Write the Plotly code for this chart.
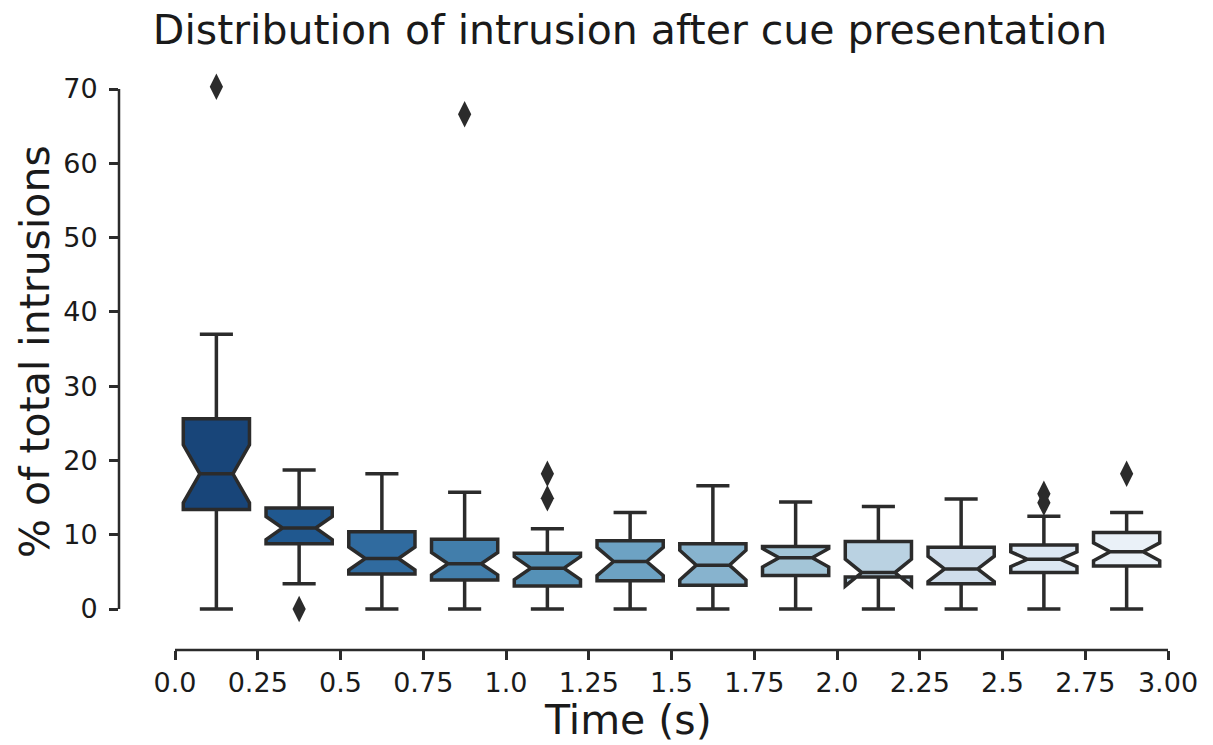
import colorsys
import numpy as np
import plotly.graph_objects as go

# ---------------- data ----------------
bin_centers = [0.125, 0.375, 0.625, 0.875, 1.125, 1.375, 1.625, 1.875, 2.125, 2.375, 2.625, 2.875]
upper_whisker = [37.0, 18.7, 18.2, 15.7, 10.8, 13.0, 16.6, 14.4, 13.8, 14.8, 12.5, 13.0]
q3_values = [25.6, 13.6, 10.4, 9.4, 7.5, 9.2, 8.8, 8.4, 9.1, 8.3, 8.6, 10.3]
median_values = [18.2, 10.9, 6.8, 6.1, 5.5, 6.4, 5.9, 6.9, 4.9, 5.4, 6.7, 7.7]
q1_values = [13.4, 8.8, 4.7, 3.9, 3.1, 3.8, 3.2, 4.5, 4.3, 3.4, 4.9, 5.8]
lower_whisker = [0.0, 3.4, 0.0, 0.0, 0.0, 0.0, 0.0, 0.0, 0.0, 0.0, 0.0, 0.0]
notch_span = [3.9, 1.55, 1.55, 1.5, 1.55, 1.9, 2.0, 1.25, 1.8, 1.7, 1.0, 1.2]

outlier_box = [0, 1, 3, 4, 4, 10, 10, 11]
outlier_values = [70.3, 0.0, 66.6, 18.2, 14.9, 15.5, 14.3, 18.2]

x_tick_vals = [0.0, 0.25, 0.5, 0.75, 1.0, 1.25, 1.5, 1.75, 2.0, 2.25, 2.5, 2.75, 3.0]
x_tick_text = ["0.0", "0.25", "0.5", "0.75", "1.0", "1.25", "1.5", "1.75", "2.0", "2.25", "2.5", "2.75", "3.00"]
y_tick_vals = [0, 10, 20, 30, 40, 50, 60, 70]

# ---------------- palette (seaborn Blues_r, desaturated 0.75) ----------------
blues_anchor = np.array([
    [247, 251, 255], [222, 235, 247], [198, 219, 239], [158, 202, 225],
    [107, 174, 214], [66, 146, 198], [33, 113, 181], [8, 81, 156], [8, 48, 107]
]) / 255.0
anchor_pos = np.linspace(0, 1, len(blues_anchor))


def blues(t):
    return [np.interp(t, anchor_pos, blues_anchor[:, k]) for k in range(3)]


n = len(bin_centers)
palette = []
for i in range(n):
    t = 1 - (i + 1) / (n + 1)
    r, g, b = blues(t)
    h, l, s = colorsys.rgb_to_hls(r, g, b)
    r, g, b = colorsys.hls_to_rgb(h, l, s * 0.75)
    palette.append("rgb(%d,%d,%d)" % (round(r * 255), round(g * 255), round(b * 255)))

EDGE = "#2b2b2b"
TEXT = "#1a1a1a"
FONT = "DejaVu Sans"

fig = go.Figure()
for i in range(n):
    fig.add_trace(go.Box(
        x=[bin_centers[i]],
        q1=[q1_values[i]], median=[median_values[i]], q3=[q3_values[i]],
        lowerfence=[lower_whisker[i]], upperfence=[upper_whisker[i]],
        notchspan=[notch_span[i]], notched=True, notchwidth=0.25,
        width=0.2, whiskerwidth=0.5,
        fillcolor=palette[i], line=dict(color=EDGE, width=3.5),
        boxpoints=False, showlegend=False, hoverinfo="skip",
    ))

fig.add_trace(go.Scatter(
    x=[bin_centers[k] for k in outlier_box], y=outlier_values, mode="markers",
    marker=dict(symbol="diamond-tall", size=19, color=EDGE, line=dict(width=0)),
    showlegend=False, hoverinfo="skip",
))

# trimmed, offset spines
fig.add_shape(type="line", xref="paper", yref="y", x0=0, x1=0, y0=0, y1=70,
              line=dict(color=EDGE, width=2.5))
fig.add_shape(type="line", xref="x", yref="paper", x0=0, x1=3.0, y0=0, y1=0,
              line=dict(color=EDGE, width=2.5))

W, H = 1213, 745
L, R, T, B = 119, 40, 70, 95
px_per_x = 993 / 3.0
x_lo = -(175 - L) / px_per_x
x_hi = 3.0 + (W - R - 1168) / px_per_x
px_per_y = 520 / 70.0
y_lo = -((H - B) - 609) / px_per_y
y_hi = (609 - T) / px_per_y
PW, PH = W - L - R, H - T - B

fig.update_layout(
    width=W, height=H,
    margin=dict(l=L, r=R, t=T, b=B, autoexpand=False),
    paper_bgcolor="white", plot_bgcolor="white",
    font=dict(family=FONT, color=TEXT),
    title=dict(text="Distribution of intrusion after cue presentation",
               x=630 / W, xref="container", xanchor="center",
               y=1 - 30 / H, yref="container", yanchor="middle",
               font=dict(family=FONT, size=41, color=TEXT)),
    xaxis=dict(range=[x_lo, x_hi], tickvals=x_tick_vals, ticktext=x_tick_text,
               ticks="outside", ticklen=9, tickwidth=2.5, tickcolor=EDGE,
               ticklabelstandoff=0,
               showline=False, showgrid=False, zeroline=False,
               tickfont=dict(family=FONT, size=27, color=TEXT)),
    yaxis=dict(range=[y_lo, y_hi], tickvals=y_tick_vals,
               ticks="outside", ticklen=9, tickwidth=2.5, tickcolor=EDGE,
               ticklabelstandoff=6,
               showline=False, showgrid=False, zeroline=False,
               tickfont=dict(family=FONT, size=27, color=TEXT)),
    annotations=[
        dict(text="Time (s)", xref="paper", yref="paper",
             x=(628 - L) / PW, y=-(720 - (H - B)) / PH,
             xanchor="center", yanchor="middle", showarrow=False,
             font=dict(family=FONT, size=41, color=TEXT)),
        dict(text="% of total intrusions", xref="paper", yref="paper",
             x=(35 - L) / PW, y=1 - (352 - T) / PH,
             xanchor="center", yanchor="middle", textangle=-90, showarrow=False,
             font=dict(family=FONT, size=41, color=TEXT)),
    ],
)

fig.write_html("out.html", config={"displayModeBar": False},
               post_script="document.body.style.margin='0';document.body.style.overflow='hidden';")
